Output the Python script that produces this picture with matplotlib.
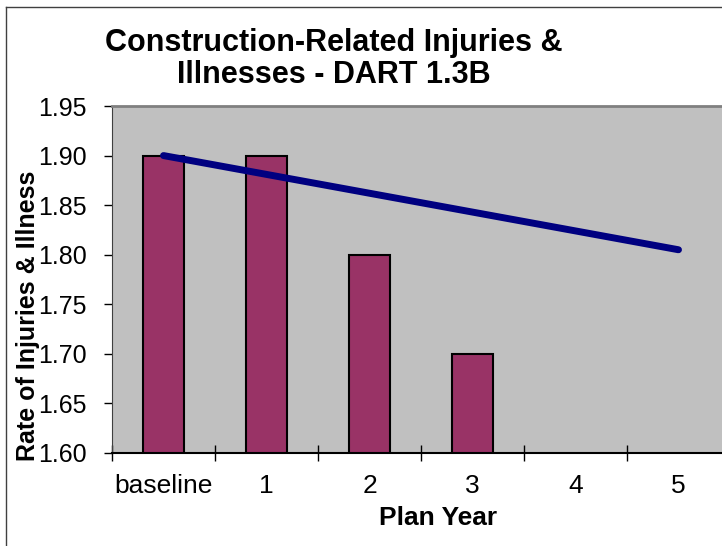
import matplotlib
matplotlib.use("Agg")
import matplotlib.pyplot as plt
import numpy as np

plt.rcParams["font.family"] = ["Liberation Sans", "DejaVu Sans"]

# ---------------------------------------------------------------------------
# Data
# ---------------------------------------------------------------------------
categories = ["baseline", "1", "2", "3", "4", "5"]
actual_rate = [1.90, 1.90, 1.80, 1.70]          # bars (years with data)
target_rate = [1.90, 1.881, 1.862, 1.843, 1.824, 1.805]   # goal line
y_ticks = [1.60, 1.65, 1.70, 1.75, 1.80, 1.85, 1.90, 1.95]

BAR_COLOR = "#993366"
LINE_COLOR = "#000080"
PLOT_BG = "#C0C0C0"

W, H = 722, 546
fig = plt.figure(figsize=(W / 100, H / 100), dpi=100)
# plot area runs off the right edge of the picture, like the original
ax = fig.add_axes([112 / W, 1 - 453 / H, 618 / W, 347 / H])
ax.set_facecolor(PLOT_BG)

x = np.arange(len(categories))
ax.bar(x[:len(actual_rate)], actual_rate, width=0.40, color=BAR_COLOR,
       edgecolor="black", linewidth=1.5, zorder=2)
ax.plot(x, target_rate, color=LINE_COLOR, linewidth=5, solid_capstyle="round", zorder=3)

ax.set_xlim(-0.5, len(categories) - 0.5)
ax.set_ylim(1.60, 1.95)
ax.set_yticks(y_ticks)
ax.set_yticklabels([f"{v:.2f}" for v in y_ticks])
ax.set_xticks(x)
ax.set_xticklabels(categories)
ax.set_xticks(np.arange(len(categories) + 1) - 0.5, minor=True)
ax.tick_params(axis="x", which="major", length=0, pad=15, labelsize=19)
ax.tick_params(axis="x", which="minor", length=11, direction="inout", width=1)
ax.tick_params(axis="y", length=6, width=1, direction="out", pad=12, labelsize=18)

for side in ["top", "right"]:
    ax.spines[side].set_color("#808080")
    ax.spines[side].set_linewidth(2)
ax.spines["left"].set_color("#404040")
ax.spines["bottom"].set_color("black")
ax.spines["bottom"].set_linewidth(1.5)

ax.set_xlabel("Plan Year", fontsize=19, fontweight="bold")
ax.xaxis.set_label_coords((438 - 112) / 618, (453 - 506) / 347)
ax.set_ylabel("Rate of Injuries & Illness", fontsize=18, fontweight="bold")
ax.yaxis.set_label_coords((40 - 112) / 618, (453 - 316) / 347)

fig.text(334 / W, 1 - 59 / H, "Construction-Related Injuries &\nIllnesses - DART 1.3B",
         ha="center", va="center", fontsize=22, fontweight="bold", linespacing=1.05)

# chart-area border (only left and top visible in the crop)
fig.add_artist(plt.Line2D([6 / W, 6 / W], [0, 1 - 7 / H], color="#404040", lw=1))
fig.add_artist(plt.Line2D([6 / W, 1], [1 - 7 / H, 1 - 7 / H], color="#404040", lw=1))

fig.savefig("out.png", dpi=100)
